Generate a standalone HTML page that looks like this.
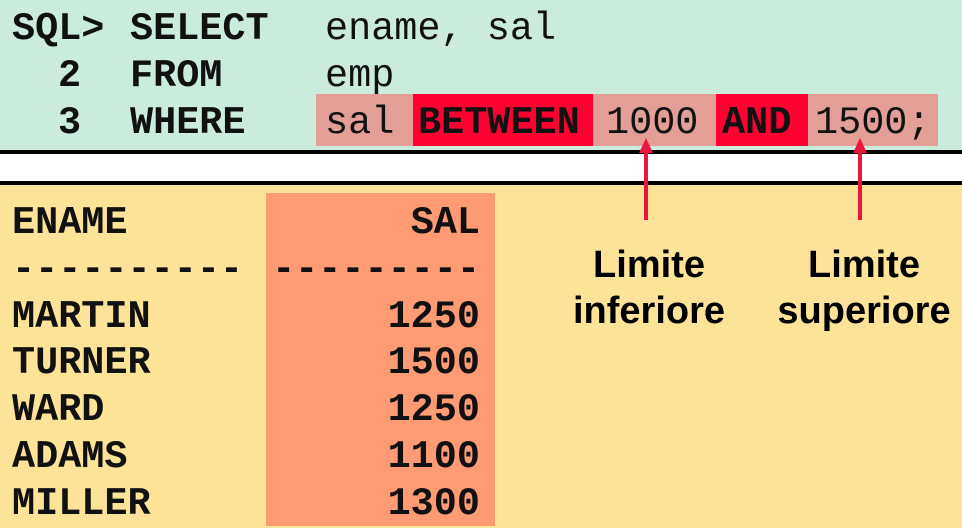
<!DOCTYPE html>
<html><head><meta charset="utf-8"><style>
body{margin:0;width:962px;height:526px;overflow:hidden;position:relative;background:#fde398;}
.a{position:absolute;white-space:pre;}
.m{font-family:"Liberation Mono",monospace;font-size:38.5px;line-height:1;font-weight:bold;color:#111;}
.r{font-weight:normal;}
.n{text-align:right;width:300px;}
.s{font-family:"Liberation Sans",sans-serif;font-weight:bold;font-size:38px;color:#000;text-align:center;line-height:46px;}
</style></head><body>
<div class="a" style="left:0;top:0;width:962px;height:150px;background:#cbecdd"></div>
<div class="a" style="left:0;top:150px;width:962px;height:4px;background:#000"></div>
<div class="a" style="left:0;top:154px;width:962px;height:27px;background:#fff"></div>
<div class="a" style="left:0;top:181px;width:962px;height:4px;background:#000"></div>
<div class="a" style="left:266px;top:193px;width:229px;height:333px;background:#fe9a74"></div>
<div class="a" style="left:316px;top:94px;width:622px;height:52px;background:#e39e98"></div>
<div class="a" style="left:413px;top:94px;width:180px;height:52px;background:#ff0033"></div>
<div class="a" style="left:716px;top:94px;width:92px;height:52px;background:#ff0033"></div>

<div class="a m" style="left:12px;top:10px">SQL></div>
<div class="a m" style="left:130px;top:10px">SELECT</div>
<div class="a m r" style="left:325px;top:10px">ename, sal</div>
<div class="a m" style="left:58px;top:57px">2</div>
<div class="a m" style="left:130px;top:57px">FROM</div>
<div class="a m r" style="left:325px;top:57px">emp</div>
<div class="a m" style="left:58px;top:104px">3</div>
<div class="a m" style="left:130px;top:104px">WHERE</div>
<div class="a m r" style="left:325px;top:104px">sal</div>
<div class="a m" style="left:418px;top:104px">BETWEEN</div>
<div class="a m r" style="left:606px;top:104px">1000</div>
<div class="a m" style="left:722px;top:104px">AND</div>
<div class="a m r" style="left:815px;top:104px">1500;</div>

<div class="a m" style="left:12px;top:200px;line-height:46.8px">ENAME
----------
MARTIN
TURNER
WARD
ADAMS
MILLER</div>
<div class="a m n" style="left:180px;top:200px;line-height:46.8px">SAL
---------
1250
1500
1250
1100
1300</div>

<svg class="a" style="left:0;top:0" width="962" height="526">
<g stroke="#e8173c" stroke-width="4" fill="#e8173c">
<line x1="646" y1="150" x2="646" y2="220"/><polygon points="646,138 639,153 653,153" stroke="none"/>
<line x1="860" y1="150" x2="860" y2="220"/><polygon points="860,138 853,153 867,153" stroke="none"/>
</g></svg>
<div class="a s" style="left:549px;top:242px;width:200px">Limite
inferiore</div>
<div class="a s" style="left:764px;top:242px;width:200px">Limite
superiore</div>
</body></html>
